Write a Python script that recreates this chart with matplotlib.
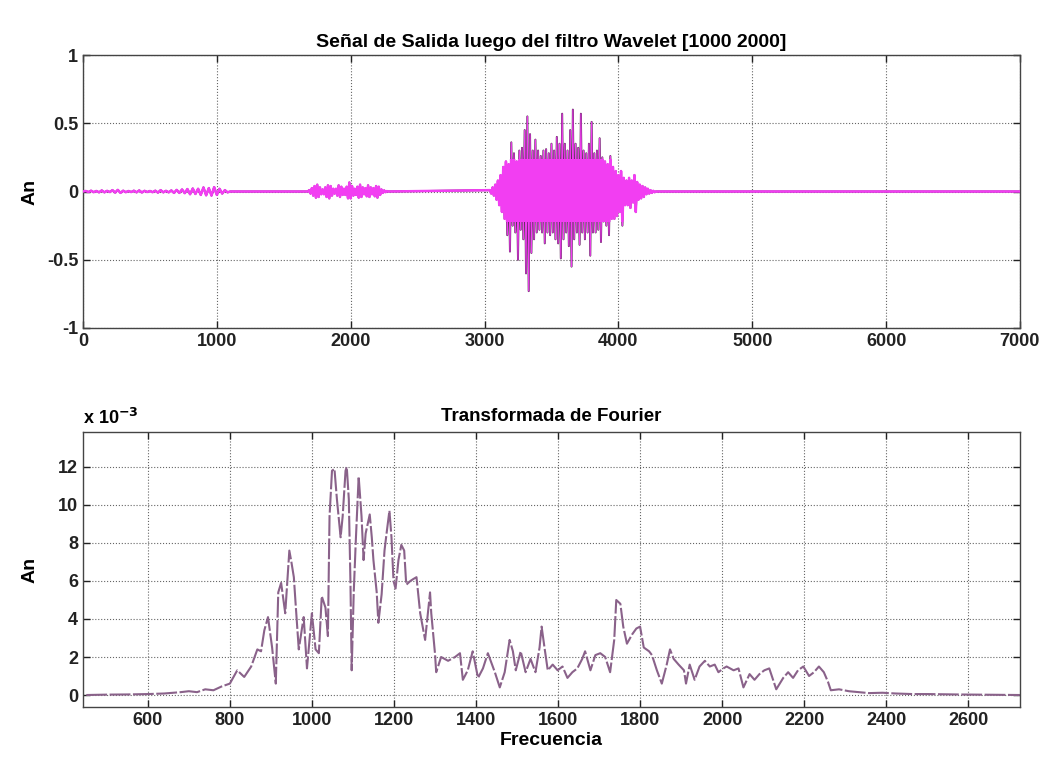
import numpy as np
import matplotlib
matplotlib.use("Agg")
import matplotlib.pyplot as plt
from matplotlib.patches import Rectangle

plt.rcParams['font.family'] = ['Liberation Sans', 'DejaVu Sans']
plt.rcParams['font.weight'] = 'bold'
plt.rcParams['axes.titleweight'] = 'bold'
plt.rcParams['axes.labelweight'] = 'bold'

# salida del filtro wavelet: tramos con actividad (el resto es ~0)
seg1_t = np.arange(0, 1120, 20)
seg1_v = [0, 0.004, -0.004, 0.006, -0.005, 0.004, -0.006, 0.008, -0.006, 0.005,
          -0.004, 0.01, -0.008, 0.012, -0.01, 0.006, -0.005, 0.004, -0.004, 0.006,
          -0.006, 0.008, -0.007, 0.005, -0.004, 0.004, -0.005, 0.006, -0.008, 0.01,
          -0.006, 0.005, -0.006, 0.008, -0.01, 0.012, -0.01, 0.015, -0.012, 0.018,
          -0.02, 0.022, -0.018, 0.02, -0.025, 0.03, -0.028, 0.025, -0.03, 0.032,
          -0.025, 0.02, -0.015, 0.01, -0.006, 0]

seg2_t = np.arange(1680, 2290, 10)
seg2_v = [0, 0.01, -0.015, 0.025, -0.03, 0.04, -0.045, 0.05, -0.04, 0.03,
          -0.02, 0.015, -0.02, 0.03, -0.04, 0.045, -0.05, 0.04, -0.03, 0.02,
          -0.015, 0.02, -0.03, 0.045, -0.04, 0.035, -0.025, 0.02, -0.025, 0.035,
          -0.05, 0.066, -0.05, 0.04, -0.03, 0.02, -0.025, 0.035, -0.045, 0.05,
          -0.04, 0.03, -0.02, 0.025, -0.035, 0.045, -0.04, 0.03, -0.02, 0.025,
          -0.035, 0.04, -0.045, 0.035, -0.025, 0.015, -0.01, 0.008, -0.005, 0.003,
          0]

seg3_t = np.arange(3040, 4290, 10)
seg3_v = [0.01, -0.015, 0.03, -0.03, 0.05, -0.06, 0.08, -0.1, 0.12, -0.15,
          0.18, -0.2, 0.22, -0.32, 0.2, -0.44, 0.36, -0.25, 0.28, -0.3,
          0.22, -0.5, 0.3, -0.28, 0.32, -0.35, 0.45, -0.6, 0.55, -0.73,
          0.42, -0.45, 0.3, -0.35, 0.38, -0.3, 0.3, -0.28, 0.26, -0.3,
          0.3, -0.38, 0.31, -0.3, 0.28, -0.32, 0.35, -0.3, 0.3, -0.35,
          0.4, -0.38, 0.35, -0.49, 0.57, -0.35, 0.35, -0.3, 0.3, -0.4,
          0.45, -0.55, 0.6, -0.35, 0.35, -0.3, 0.32, -0.39, 0.57, -0.3,
          0.3, -0.35, 0.28, -0.3, 0.35, -0.47, 0.51, -0.3, 0.28, -0.3,
          0.3, -0.28, 0.39, -0.37, 0.25, -0.22, 0.22, -0.25, 0.2, -0.32,
          0.26, -0.2, 0.18, -0.2, 0.15, -0.18, 0.12, -0.15, 0.15, -0.25,
          0.1, -0.1, 0.08, -0.1, 0.1, -0.12, 0.08, -0.08, 0.12, -0.15,
          0.07, -0.06, 0.05, -0.05, 0.04, -0.04, 0.03, -0.02, 0.02, -0.015,
          0.01, -0.01, 0.005, -0.005, 0]

t = np.concatenate([seg1_t, seg2_t, seg3_t, [7000]])
y = np.concatenate([seg1_v, seg2_v, seg3_v, [0]])

# espectro (amplitud en unidades de 1e-3)
freq = [450, 500, 550, 600, 640, 680, 700, 720, 740, 760, 780, 800, 818, 835, 852,
        867, 876, 884, 893, 903, 912, 918, 925, 935, 945, 950, 956, 960, 968, 980,
        988, 1000, 1009, 1017, 1024, 1033, 1039, 1043, 1049, 1055, 1061, 1070, 1075,
        1082, 1085, 1090, 1094, 1097, 1102, 1107, 1114, 1121, 1126, 1131, 1141, 1146,
        1150, 1158, 1162, 1170, 1177, 1182, 1189, 1194, 1199, 1204, 1211, 1218, 1225,
        1230, 1240, 1247, 1255, 1264, 1276, 1284, 1288, 1291, 1300, 1303, 1315, 1332,
        1349, 1361, 1368, 1380, 1392, 1405, 1417, 1429, 1446, 1458, 1470, 1482, 1490,
        1497, 1509, 1521, 1533, 1545, 1555, 1560, 1567, 1575, 1587, 1599, 1611, 1623,
        1635, 1647, 1659, 1666, 1679, 1691, 1703, 1715, 1727, 1737, 1742, 1752, 1759,
        1768, 1781, 1791, 1800, 1809, 1822, 1829, 1841, 1853, 1865, 1873, 1882, 1894,
        1907, 1912, 1921, 1933, 1945, 1958, 1970, 1982, 1991, 2003, 2011, 2028, 2040,
        2052, 2067, 2079, 2091, 2103, 2115, 2132, 2149, 2161, 2173, 2185, 2198, 2212,
        2224, 2236, 2248, 2258, 2265, 2285, 2309, 2333, 2358, 2391, 2423, 2464, 2503,
        2568, 2620, 2700, 2726]
amp_e3 = [0.0, 0.02, 0.03, 0.05, 0.08, 0.15, 0.2, 0.15, 0.3, 0.25, 0.45, 0.6, 1.3, 0.95, 1.5,
          2.4, 2.3, 3.4, 4.1, 2.5, 0.6, 5.4, 5.9, 4.3, 7.6, 7.0, 6.2, 4.9, 2.4, 4.1,
          1.4, 4.3, 2.4, 2.2, 5.2, 4.6, 3.1, 9.4, 11.8, 11.9, 10.3, 8.3, 9.4,
          11.8, 12.0, 10.3, 5.9, 1.3, 5.4, 8.1, 11.5, 9.4, 7.1, 8.5, 9.5, 8.3,
          7.1, 5.4, 3.8, 5.3, 7.6, 8.5, 9.7, 8.3, 6.0, 5.6, 7.1, 7.9, 7.6,
          5.8, 6.0, 6.1, 6.2, 4.3, 2.9, 4.6, 5.4, 4.3, 2.2, 1.2, 2.0, 1.8,
          2.0, 2.2, 0.8, 1.3, 2.3, 0.9, 1.4, 2.2, 1.2, 0.4, 1.2, 2.9, 2.3,
          1.3, 2.3, 1.2, 1.9, 1.2, 2.5, 3.6, 2.5, 1.3, 1.6, 1.3, 1.5, 0.9,
          1.2, 1.4, 1.9, 2.3, 1.3, 2.1, 2.2, 2.0, 1.2, 2.9, 5.0, 4.8, 3.6,
          2.7, 3.2, 3.5, 3.6, 2.5, 2.3, 2.1, 1.3, 0.6, 1.6, 2.4, 1.9, 1.6,
          1.3, 0.6, 1.6, 0.8, 1.5, 1.8, 1.5, 1.6, 1.2, 1.4, 1.5, 1.3, 1.4,
          0.4, 1.1, 0.8, 1.1, 1.3, 1.4, 0.3, 0.9, 1.2, 0.9, 1.3, 1.5, 1.0,
          1.2, 1.5, 1.2, 0.7, 0.25, 0.3, 0.2, 0.15, 0.1, 0.12, 0.08, 0.05, 0.05,
          0.03, 0.02, 0.0, 0.0]

fig = plt.figure(figsize=(10.48, 7.58), dpi=100)
ax1 = fig.add_axes([0.0792, 0.5673, 0.894, 0.3601])
ax2 = fig.add_axes([0.0792, 0.0673, 0.894, 0.3628])

tick_kw = dict(direction='in', length=5, width=1, top=True, right=True,
               labelsize=13, colors='#222222')

# --- señal filtrada: trazo oscuro debajo, magenta encima (mas grueso en el nucleo) ---
ax1.plot(t, y, color='#4a1f48', lw=1.4, zorder=2)
ax1.plot(t, y, color='#f23ef2', lw=0.8, zorder=3)
core, = ax1.plot(t, y, color='#f23ef2', lw=1.8, zorder=4)
core.set_clip_path(Rectangle((0, -0.22), 7000, 0.46, transform=ax1.transData))
ax1.set_xlim(0, 7000)
ax1.set_ylim(-1, 1)
ax1.set_xticks(range(0, 7001, 1000))
ax1.set_yticks([-1, -0.5, 0, 0.5, 1])
ax1.set_yticklabels(['-1', '-0.5', '0', '0.5', '1'])
ax1.set_ylabel('An', fontsize=14)
ax1.set_title('Señal de Salida luego del filtro Wavelet [1000 2000]', fontsize=14, pad=6)

# --- espectro ---
ax2.plot(freq, amp_e3, color='#8a628a', lw=1.5, linestyle=(0, (10, 1.2)))
ax2.set_xlim(442, 2726)
ax2.set_ylim(-0.63, 13.84)
ax2.set_xticks(range(600, 2601, 200))
ax2.set_yticks(range(0, 13, 2))
ax2.set_ylabel('An', fontsize=14)
ax2.set_xlabel('Frecuencia', fontsize=14, labelpad=2)
ax2.set_title('Transformada de Fourier', fontsize=13.5, pad=8)
ax2.text(0.0, 1.015, r'x 10$^{-3}$', transform=ax2.transAxes, fontsize=13,
         ha='left', va='bottom')

for ax in (ax1, ax2):
    ax.tick_params(**tick_kw)
    ax.grid(True, linestyle=':', color='#666666', linewidth=0.8)
    ax.yaxis.set_label_coords(-0.048, 0.5)
    for s in ax.spines.values():
        s.set_color('#444444')
        s.set_linewidth(1)

fig.savefig('out.png', dpi=100)
